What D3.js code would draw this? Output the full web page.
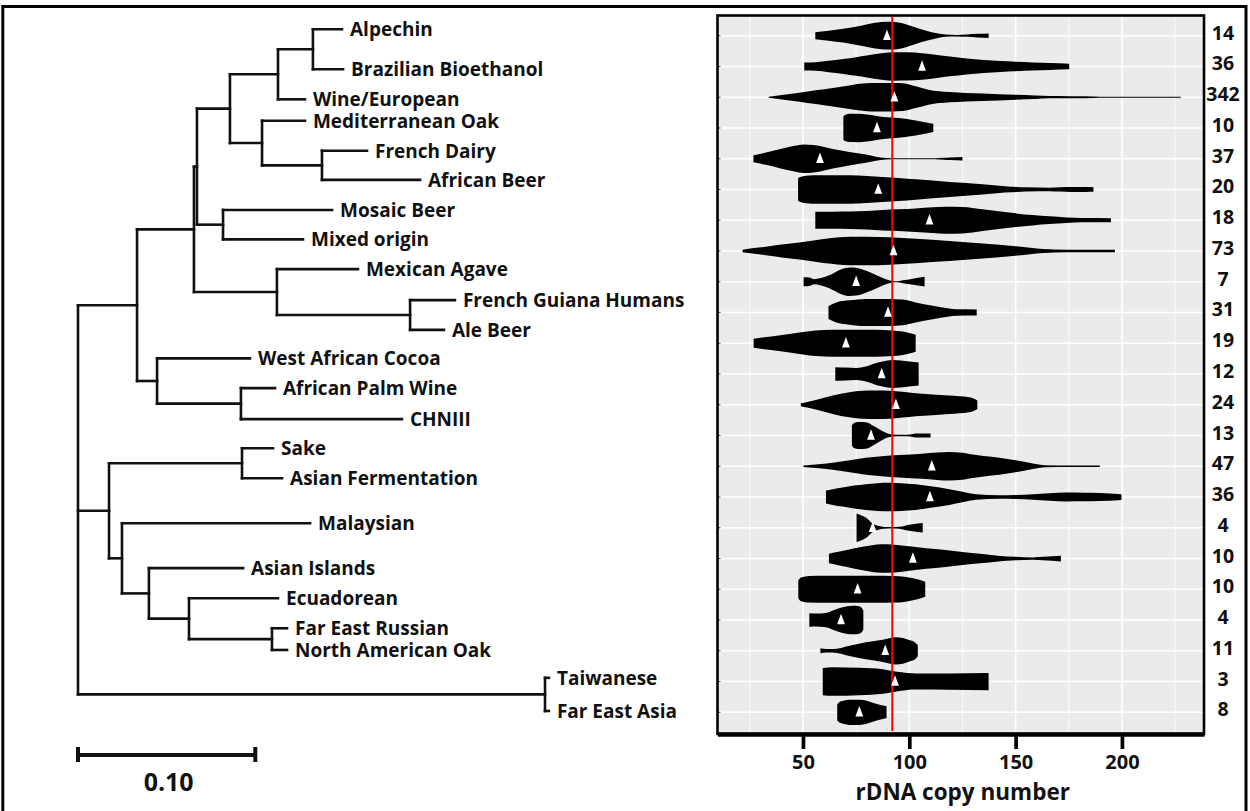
<!DOCTYPE html>
<html>
<head>
<meta charset="utf-8">
<script src="https://cdn.jsdelivr.net/npm/d3@7"></script>
<style>
body { margin: 0; background: #fff; }
text { font-family: "Open Sans", sans-serif; font-weight: 700; fill: #111; }
</style>
</head>
<body>
<div id="chart"></div>
<script>
var WIDTH = 1250;
var HEIGHT = 811;

// populations, top to bottom (tree tips and violin rows)
var groups = ["Alpechin", "Brazilian Bioethanol", "Wine/European", "Mediterranean Oak",
	"French Dairy", "African Beer", "Mosaic Beer", "Mixed origin", "Mexican Agave",
	"French Guiana Humans", "Ale Beer", "West African Cocoa", "African Palm Wine", "CHNIII",
	"Sake", "Asian Fermentation", "Malaysian", "Asian Islands", "Ecuadorean",
	"Far East Russian", "North American Oak", "Taiwanese", "Far East Asia"];

// number of strains per row (right hand column)
var counts = [14, 36, 342, 10, 37, 20, 18, 73, 7, 31, 19, 12, 24, 13, 47, 36, 4, 10, 10, 4, 11, 3, 8];

// mean rDNA copy number per row (white triangles)
var means = [89.5, 106, 93, 84.8, 58, 85.4, 109.5, 92.6, 75, 90, 70.2, 87, 93.7, 82,
	110.6, 109.7, 82.8, 101.7, 75.7, 67.9, 88.7, 93.3, 76.5];

// vertical placement of the tree tips, in row units (the tree was laid out by hand)
var tipRows = [0, 1.29, 2.26, 2.95, 3.92, 4.86, 5.83, 6.78, 7.74, 8.74, 9.70, 10.62,
	11.58, 12.58, 13.52, 14.49, 15.94, 17.39, 18.36, 19.33, 20.03, 20.93, 22];

// violin outlines: [copy number, relative half width]
var profiles = [
	[[55.8,.24],[62,.35],[69,.48],[78,.72],[85,.92],[89,.97],[93,.96],[98,.82],[103,.58],[108,.35],[113,.17],[117,.08],[122,.05],[127,.08],[132,.13],[137.3,.16]],
	[[50.6,.28],[56,.3],[62,.4],[69,.52],[75,.65],[80,.77],[87,.93],[93,1],[99,.99],[106,.93],[113,.8],[119,.69],[127,.56],[135,.45],[143,.38],[150,.33],[158,.28],[166,.24],[175.2,.19]],
	[[33.9,.04],[41,.17],[48.3,.31],[56,.48],[64,.65],[71.8,.82],[78,.95],[82,1],[92,1],[97,.97],[103,.76],[109,.52],[119,.36],[134.5,.26],[150,.17],[159.5,.12],[166,.08],[175,.07],[183,.07],[190,.04],[205,.03],[227.7,.03]],
	[[69,.82],[70,.93],[72,.99],[76,1],[80,.95],[84,.86],[88,.77],[95,.69],[103,.52],[108,.38],[111.3,.29]],
	[[26.7,.24],[32.6,.43],[40.4,.72],[46,.9],[50.2,1],[55,.96],[60,.82],[64,.68],[71.8,.47],[79.6,.29],[84.3,.14],[89,.05],[95,.03],[103,.03],[112,.04],[116,.07],[119,.09],[125,.12]],
	[[47.7,.8],[50,.92],[53,.98],[56,1],[72,1],[80,.94],[87.5,.88],[95,.8],[103,.71],[119,.52],[134.5,.36],[145,.22],[155,.15],[166,.12],[171,.15],[176,.17],[183,.17],[186.6,.16]],
	[[55.8,.6],[64,.6],[72,.61],[80,.65],[87.5,.71],[95,.76],[103,.82],[111,.9],[117,.95],[125,.93],[134.5,.76],[142,.62],[150,.48],[158,.36],[166,.27],[174,.19],[181,.15],[194.8,.14]],
	[[21.6,.09],[27,.2],[32.6,.3],[40,.45],[48.3,.6],[55,.74],[60.8,.86],[66,.94],[72,1],[80,1],[90.6,.96],[103,.85],[118.8,.7],[134.5,.52],[150,.33],[157,.22],[163,.14],[174,.09],[185,.09],[196.7,.08]],
	[[50.3,.32],[53,.3],[55.3,.18],[58,.24],[62.4,.45],[65,.65],[67.5,.84],[70,.96],[72,1],[75,.97],[78,.85],[82.8,.58],[86,.37],[89,.18],[92,.05],[94,.03],[97,.1],[101,.2],[107.2,.34]],
	[[62,.45],[64,.6],[66,.72],[71.8,.85],[79.6,.95],[90.6,.95],[97,.9],[103,.7],[111,.47],[118.8,.28],[122,.22],[131.7,.21]],
	[[26.8,.32],[35,.48],[42,.62],[50,.78],[56,.9],[64,.95],[84,.95],[92,.9],[97,.82],[100,.72],[103,.6]],
	[[65.2,.48],[70,.45],[75,.42],[78,.48],[81.2,.6],[84,.75],[87.5,.88],[92,.98],[96,.95],[100,.88],[104.4,.8]],
	[[49,.1],[52,.2],[56,.33],[64,.64],[71.8,.88],[78,.98],[84,1],[90.6,.98],[103,.81],[118.8,.64],[128.2,.52],[130.5,.42],[132,.3]],
	[[73,.7],[74,.88],[76,.95],[79.6,.93],[83.5,.64],[87.5,.29],[90.6,.1],[94,.05],[99,.05],[101.6,.1],[103,.14],[110,.14]],
	[[50.2,.05],[56,.12],[64,.24],[72,.42],[79.6,.6],[87,.7],[95.3,.79],[106,.88],[113,.96],[118.8,1],[125,.95],[128.2,.86],[135,.72],[142.3,.6],[150,.42],[156.4,.24],[161,.12],[164.2,.07],[175,.05],[189.6,.05]],
	[[60.8,.45],[64,.55],[68.6,.67],[74,.8],[79.6,.9],[85,.97],[90.6,1],[96,.97],[103,.9],[110,.75],[118.8,.55],[125,.36],[131.4,.19],[142.3,.12],[150,.14],[158,.19],[166,.26],[173.6,.31],[183,.3],[189.3,.28],[199.8,.2]],
	[[75.2,1],[77,.9],[79.6,.71],[82.8,.29],[85.9,.12],[88,.06],[92,.05],[95.3,.07],[98,.15],[101.6,.24],[106.3,.33]],
	[[62.2,.33],[66,.45],[70.7,.6],[78,.82],[87,1],[93,.97],[100,.85],[108,.72],[117,.6],[125,.45],[133.5,.33],[141.7,.2],[150,.12],[158,.08],[163,.12],[171.3,.2]],
	[[47.8,.62],[49,.82],[51,.9],[53,.93],[60,.95],[80,.95],[95.3,.92],[100,.82],[104.7,.66],[107.5,.52]],
	[[53,.48],[56,.46],[60.8,.5],[64.7,.71],[68.6,.9],[73.4,1],[76,.98],[77.5,.88],[78.4,.65]],
	[[58.2,.18],[61,.12],[64,.12],[71.8,.36],[79.6,.6],[87.5,.78],[93.7,.95],[97,.9],[100,.75],[103,.55],[104,.38]],
	[[59.3,.95],[64,1],[76.5,.96],[87.5,.86],[95.3,.66],[103,.56],[118.8,.57],[137.3,.6]],
	[[66.1,.55],[67,.7],[69,.8],[71.8,.88],[76.5,.88],[80,.8],[82.8,.66],[87.5,.47],[89.3,.42]]
];

var referenceLine = 92;
var xTicks = [50, 100, 150, 200];
var xMinorTicks = [25, 75, 125, 175, 225];
var xDomain = [9.8, 238.6];
var scaleBarLength = 0.10;

// neighbour joining tree, branch lengths in substitutions per site
var treeNewick =
	"(((((((" +
	"'Alpechin':0.0164,'Brazilian Bioethanol':0.0170):0.0197,'Wine/European':0.0152):0.0271," +
	"('Mediterranean Oak':0.0242,('French Dairy':0.0254,'African Beer':0.0553):0.0338):0.0181):0.0186," +
	"('Mosaic Beer':0.0615,'Mixed origin':0.0451):0.0147):0.0017," +
	"('Mexican Agave':0.0457,('French Guiana Humans':0.0253,'Ale Beer':0.0191):0.0751):0.0468):0.0321," +
	"('West African Cocoa':0.0524,('African Palm Wine':0.0192,'CHNIII':0.0908):0.0473):0.0113):0.0333," +
	"(('Sake':0.0175,'Asian Fermentation':0.0226):0.0750," +
	"('Malaysian':0.1061,('Asian Islands':0.0531,('Ecuadorean':0.0502,('Far East Russian':0.0085," +
	"'North American Oak':0.0085):0.0468):0.0226):0.0152):0.0073):0.0175," +
	"('Taiwanese':0.0022,'Far East Asia':0.0022):0.2634);";

/**
 * Minimal Newick reader: quoted names and branch lengths only.
 **/
function parseNewick(s) {
	var i = 0;
	function node() {
		var n = {children: []};
		if(s[i] == '(') {
			i++;
			do { n.children.push(node()); } while(s[i++] == ',');
		}
		var name = '';
		if(s[i] == "'") {
			i++;
			while(s[i] != "'") name += s[i++];
			i++;
		} else {
			while(i < s.length && ',:();'.indexOf(s[i]) < 0) name += s[i++];
		}
		n.name = name;
		n.length = 0;
		if(s[i] == ':') {
			i++;
			var num = '';
			while(i < s.length && ',);'.indexOf(s[i]) < 0) num += s[i++];
			n.length = +num;
		}
		if(n.children.length == 0) delete n.children;
		return n;
	}
	return node();
}

var svg = d3.select('#chart').append('svg')
	.attr('width', WIDTH).attr('height', HEIGHT);

// outer frame (open at the bottom, as in the figure)
svg.append('path')
	.attr('d', 'M2.8,815V6.5H1246V815')
	.attr('fill', 'none').attr('stroke', '#000').attr('stroke-width', 3);

/* ---------------- tree ---------------- */
var treeX = d3.scaleLinear().domain([0, 0.1]).range([78, 255.3]);
var treeY = d3.scaleLinear().domain([0, 22]).range([29.3, 711]);

var root = d3.hierarchy(parseNewick(treeNewick));
root.eachBefore(function(n) { n.dist = n.parent ? n.parent.dist + n.data.length : 0; });
root.eachAfter(function(n) {
	if(!n.children) n.ty = treeY(tipRows[groups.indexOf(n.data.name)]);
	else n.ty = (n.children[0].ty + n.children[n.children.length - 1].ty) / 2;
});

var treeG = svg.append('g')
	.attr('stroke', '#111').attr('stroke-width', 2.6).attr('stroke-linecap', 'square').attr('fill', 'none');

treeG.selectAll('line.h').data(root.descendants().filter(function(n) { return n.parent; }))
	.enter().append('line').attr('class', 'h')
	.attr('x1', function(n) { return treeX(n.parent.dist); })
	.attr('x2', function(n) { return treeX(n.dist); })
	.attr('y1', function(n) { return n.ty; })
	.attr('y2', function(n) { return n.ty; });

treeG.selectAll('line.v').data(root.descendants().filter(function(n) { return n.children; }))
	.enter().append('line').attr('class', 'v')
	.attr('x1', function(n) { return treeX(n.dist); })
	.attr('x2', function(n) { return treeX(n.dist); })
	.attr('y1', function(n) { return n.children[0].ty; })
	.attr('y2', function(n) { return n.children[n.children.length - 1].ty; });

svg.append('g').selectAll('text').data(root.leaves())
	.enter().append('text')
	.attr('x', function(n) { return treeX(n.dist) + 8; })
	.attr('y', function(n) { return n.ty + 7; })
	.style('font-size', '19px')
	.text(function(n) { return n.data.name; });

// scale bar
var barY = 755;
var bar = svg.append('g').attr('stroke', '#111').attr('stroke-width', 4);
bar.append('line').attr('x1', treeX(0)).attr('x2', treeX(scaleBarLength)).attr('y1', barY).attr('y2', barY);
bar.append('line').attr('x1', treeX(0)).attr('x2', treeX(0)).attr('y1', barY - 8).attr('y2', barY + 7);
bar.append('line').attr('x1', treeX(scaleBarLength)).attr('x2', treeX(scaleBarLength)).attr('y1', barY - 8).attr('y2', barY + 7);
svg.append('text')
	.attr('x', (treeX(0) + treeX(scaleBarLength)) / 2 + 2).attr('y', 791)
	.attr('text-anchor', 'middle').style('font-size', '25px')
	.text(d3.format('.2f')(scaleBarLength));

/* ---------------- violins ---------------- */
var panel = {left: 717.5, right: 1204, top: 15.5, bottom: 734};
var x = d3.scaleLinear().domain(xDomain).range([panel.left, panel.right]);
var y = d3.scalePoint().domain(groups).range([35.7, 712.3]);
var halfMax = y.step() * 0.465;

var plot = svg.append('g');
plot.append('rect')
	.attr('x', panel.left).attr('y', panel.top)
	.attr('width', panel.right - panel.left).attr('height', panel.bottom - panel.top)
	.attr('fill', '#EBEBEB');

var grid = plot.append('g').attr('stroke', '#fff');
grid.selectAll('line.minor').data(xMinorTicks).enter().append('line')
	.attr('x1', x).attr('x2', x).attr('y1', panel.top).attr('y2', panel.bottom)
	.attr('stroke-width', 0.8);
grid.selectAll('line.major').data(xTicks).enter().append('line')
	.attr('x1', x).attr('x2', x).attr('y1', panel.top).attr('y2', panel.bottom)
	.attr('stroke-width', 1.6);
grid.selectAll('line.row').data(groups).enter().append('line')
	.attr('x1', panel.left).attr('x2', panel.right)
	.attr('y1', y).attr('y2', y)
	.attr('stroke-width', 1.6);

// small y ticks on the left edge
plot.append('g').attr('stroke', '#444').attr('stroke-width', 1)
	.selectAll('line').data(groups).enter().append('line')
	.attr('x1', panel.left).attr('x2', panel.left + 3)
	.attr('y1', y).attr('y2', y);

groups.forEach(function(g, i) {
	var cy = y(g);
	var area = d3.area()
		.x(function(d) { return x(d[0]); })
		.y0(function(d) { return cy - d[1] * halfMax; })
		.y1(function(d) { return cy + d[1] * halfMax; })
		.curve(d3.curveMonotoneX);
	plot.append('path').attr('d', area(profiles[i])).attr('fill', '#000');
});

// reference line
plot.append('line')
	.attr('x1', x(referenceLine)).attr('x2', x(referenceLine))
	.attr('y1', panel.top + 1.5).attr('y2', panel.bottom - 3)
	.attr('stroke', '#FF0000').attr('stroke-width', 2);

// mean markers
plot.selectAll('path.mean').data(means).enter().append('path')
	.attr('class', 'mean')
	.attr('fill', '#fff')
	.attr('d', function(m, i) {
		var cx = x(m), cy = y(groups[i]);
		return 'M' + cx + ',' + (cy - 6.2) + 'L' + (cx + 3.9) + ',' + (cy + 4.3) + 'L' + (cx - 3.9) + ',' + (cy + 4.3) + 'Z';
	});

// panel border
plot.append('rect')
	.attr('x', panel.left).attr('y', panel.top)
	.attr('width', panel.right - panel.left).attr('height', panel.bottom - panel.top)
	.attr('fill', 'none').attr('stroke', '#000').attr('stroke-width', 2.6);

// x axis
var xAxis = svg.append('g').attr('transform', 'translate(0,' + panel.bottom + ')')
	.call(d3.axisBottom(x).tickValues(xTicks).tickSize(15).tickSizeOuter(0).tickPadding(6));
xAxis.select('.domain').attr('stroke', '#000').attr('stroke-width', 4.3);
xAxis.selectAll('.tick line').attr('stroke', '#000').attr('stroke-width', 3.7);
xAxis.selectAll('.tick text')
	.style('font-family', '"Open Sans", sans-serif').style('font-weight', 700)
	.style('font-size', '20px').attr('fill', '#111');

svg.append('text')
	.attr('x', (panel.left + panel.right) / 2 + 2).attr('y', 800)
	.attr('text-anchor', 'middle').style('font-size', '22.5px')
	.text('rDNA copy number');

// strain counts
svg.append('g').selectAll('text').data(counts).enter().append('text')
	.attr('x', 1223)
	.attr('y', function(c, i) { return y(groups[i]) + 4; })
	.attr('text-anchor', 'middle').style('font-size', '19.5px')
	.text(function(c) { return c; });
</script>
</body>
</html>
